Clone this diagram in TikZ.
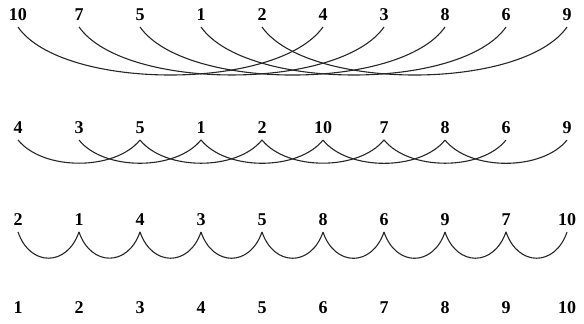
\documentclass[tikz,border=0pt]{standalone}
\usepackage{fontspec}
\setmainfont{Liberation Serif}
\tikzset{
    key/.style={font=\bfseries\fontsize{18}{20}\selectfont, inner sep=0pt, outer sep=6pt},
    gaparc/.style={line width=1.1pt, draw=black!85}
}
\begin{document}
\begin{tikzpicture}[x=1pt,y=1pt]
    \useasboundingbox (0,0) rectangle (584,-324);
    % gap 5
    \foreach \v [count=\i from 0] in {10,7,5,1,2,4,3,8,6,9}
        \node[key] (a\i) at (18+61*\i,-15) {\v};
    \foreach \i in {0,...,4} {
        \pgfmathtruncatemacro\j{\i+5}
        \draw[gaparc] (a\i.south) .. controls +(45,-64) and +(-45,-64) .. (a\j.south);
    }
    % gap 2
    \foreach \v [count=\i from 0] in {4,3,5,1,2,10,7,8,6,9}
        \node[key] (b\i) at (18+61*\i,-128) {\v};
    \foreach \i in {0,...,7} {
        \pgfmathtruncatemacro\j{\i+2}
        \draw[gaparc] (b\i.south) .. controls +(25,-31) and +(-25,-31) .. (b\j.south);
    }
    % gap 1
    \foreach \v [count=\i from 0] in {2,1,4,3,5,8,6,9,7,10}
        \node[key] (c\i) at (18+61*\i,-220) {\v};
    \foreach \i in {0,...,8} {
        \pgfmathtruncatemacro\j{\i+1}
        \draw[gaparc] (c\i.south) .. controls +(12,-35) and +(-12,-35) .. (c\j.south);
    }
    % sorted
    \foreach \v [count=\i from 0] in {1,...,10}
        \node[key] (d\i) at (18+61*\i,-308) {\v};
\end{tikzpicture}
\end{document}
